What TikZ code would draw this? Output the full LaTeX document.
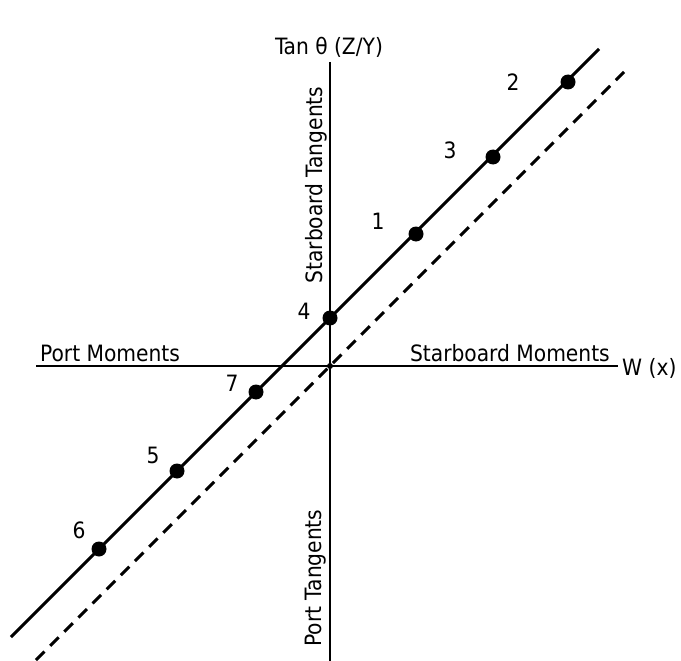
\documentclass[tikz,border=0pt]{standalone}
\usepackage{fontspec}
\setmainfont{DejaVu Sans Condensed}
\begin{document}
\begin{tikzpicture}[x=1pt,y=-1pt,
  lbl/.style={font=\fontsize{22.5}{26}\selectfont, inner sep=0pt},
  axisline/.style={line width=1.8pt},
  mainline/.style={line width=3pt},
  offline/.style={line width=3pt, dash pattern=on 12pt off 8pt},
  datadot/.style={circle, fill=black, minimum size=15pt, inner sep=0pt}]
\useasboundingbox (0,0) rectangle (681,661);
% axes
\coordinate (yt) at (330,62);
\coordinate (yb) at (330,661);
\coordinate (xl) at (36,366);
\coordinate (xr) at (618,366);
\coordinate (o) at (330,366);
\draw[axisline] (yt) -- (yb);
\draw[axisline] (xl) -- (xr);
% lines
\coordinate (sl) at (11,637);
\coordinate (su) at (599,49);
\coordinate (dl) at (36,660);
\coordinate (du) at (624,72);
\draw[mainline] (sl) -- (su);
\draw[offline] (dl) -- (du);
% data points
\node[datadot] (p2) at (568,82) {};
\node[datadot] (p3) at (493,157) {};
\node[datadot] (p1) at (416,234) {};
\node[datadot] (p4) at (330,318) {};
\node[datadot] (p7) at (256,392) {};
\node[datadot] (p5) at (177,471) {};
\node[datadot] (p6) at (99,549) {};
\node[datadot, minimum size=6pt] (po) at (o) {};
% point labels
\node[lbl] (l2) at (513,82) {2};
\node[lbl] (l3) at (450,150) {3};
\node[lbl] (l1) at (378,221) {1};
\node[lbl] (l4) at (304,311) {4};
\node[lbl] (l7) at (232,383) {7};
\node[lbl] (l5) at (153,455) {5};
\node[lbl] (l6) at (79,530) {6};
% axis labels
\node[lbl] (title) at (329,47) {Tan θ (Z/Y)};
\node[lbl, anchor=west] (pm) at (40,353) {Port Moments};
\node[lbl, anchor=east] (sm) at (610,353) {Starboard Moments};
\node[lbl, anchor=west] (wx) at (622,368) {W (x)};
\node[lbl, rotate=90] (st) at (316,185) {Starboard Tangents};
\node[lbl, rotate=90] (pt) at (316,578) {Port Tangents};
\end{tikzpicture}
\end{document}
